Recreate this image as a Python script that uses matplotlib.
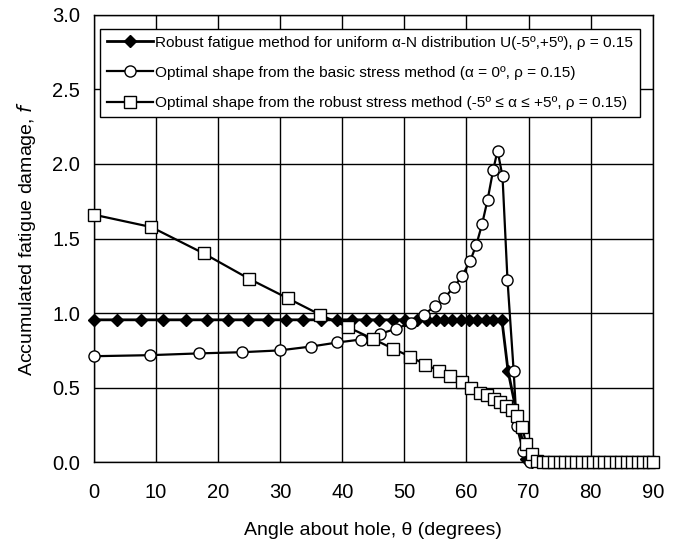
import matplotlib
matplotlib.use("Agg")
import matplotlib.pyplot as plt
import numpy as np

plt.rcParams['font.family'] = ['Liberation Sans', 'DejaVu Sans']

# Robust fatigue method (diamonds)
fat_x = [0, 3.8, 7.6, 11.1, 14.8, 18.2, 21.6, 24.9, 28.0, 31.0, 33.6, 36.5, 39.2, 41.5,
         43.8, 45.9, 48.1, 50.1, 52.0, 53.6, 55.1, 56.3, 57.7, 59.1, 60.4, 61.7, 63.1,
         64.3, 65.7, 66.7, 69.6, 70.5, 71.5, 72.5, 73.5, 74.5, 75.5, 76.5, 77.5, 78.5,
         79.5, 80.5, 81.5, 82.5, 83.5, 84.5, 85.5, 86.5, 87.5, 88.5, 89.5]
fat_y = [0.955] * 29 + [0.61, 0.02] + [0.0] * 20

# Basic stress method (circles)
basic_x = [0, 9.0, 17.0, 23.9, 29.9, 35.0, 39.2, 43.0, 46.1, 48.7, 51.0, 53.1, 54.9,
           56.4, 58.0, 59.3, 60.6, 61.6, 62.5, 63.4, 64.3, 65.0, 65.8, 66.6, 67.6,
           68.1, 69.1, 70.2]
basic_y = [0.711, 0.718, 0.73, 0.738, 0.75, 0.776, 0.803, 0.823, 0.862, 0.895, 0.935,
           0.989, 1.045, 1.10, 1.175, 1.25, 1.35, 1.46, 1.595, 1.76, 1.96, 2.09, 1.917,
           1.224, 0.609, 0.24, 0.078, 0.0]

# Robust stress method (squares)
rob_x = [0, 9.25, 17.7, 25.0, 31.2, 36.4, 40.9, 44.9, 48.2, 50.9, 53.4, 55.5, 57.4,
         59.2, 60.7, 62.2, 63.3, 64.4, 65.4, 66.4, 67.3, 68.1, 69.0, 69.6, 70.5, 71.3,
         72.3, 73.2, 74.1, 75.0, 75.9, 76.8, 77.7, 78.6, 79.5, 80.4, 81.3, 82.2, 83.1,
         84.0, 84.9, 85.8, 86.7, 87.6, 88.5, 89.4, 90.0]
rob_y = [1.66, 1.577, 1.40, 1.23, 1.10, 0.99, 0.906, 0.828, 0.761, 0.709, 0.654, 0.615,
         0.575, 0.537, 0.499, 0.466, 0.448, 0.425, 0.403, 0.38, 0.352, 0.307, 0.235,
         0.12, 0.056, 0.007] + [0.0] * 21

x_ticks = [0, 10, 20, 30, 40, 50, 60, 70, 80, 90]
y_ticks = [0.0, 0.5, 1.0, 1.5, 2.0, 2.5, 3.0]

fig = plt.figure(figsize=(6.85, 5.49), dpi=100)
ax = fig.add_axes([0.137, 0.158, 0.816, 0.815])

ax.plot(fat_x, fat_y, color='black', lw=2.0, marker='D', ms=6, mfc='black', mec='black',
        label='Robust fatigue method for uniform α-N distribution U(-5º,+5º), ρ = 0.15',
        zorder=3, clip_on=False)
ax.plot(basic_x, basic_y, color='black', lw=1.6, marker='o', ms=8, mfc='white', mec='black',
        mew=1.0, label='Optimal shape from the basic stress method (α = 0º, ρ = 0.15)',
        zorder=4, clip_on=False)
ax.plot(rob_x, rob_y, color='black', lw=1.6, marker='s', ms=8, mfc='white', mec='black',
        mew=1.0, label='Optimal shape from the robust stress method (-5º ≤ α ≤ +5º, ρ = 0.15)',
        zorder=5, clip_on=False)

ax.set_xlim(0, 90)
ax.set_ylim(0, 3.0)
ax.set_xticks(x_ticks)
ax.set_yticks(y_ticks)
ax.set_yticklabels([f"{v:.1f}" for v in y_ticks])
ax.tick_params(axis='both', length=0, labelsize=14.5)
ax.tick_params(axis='x', pad=15)
ax.tick_params(axis='y', pad=10)
ax.grid(True, color='black', lw=1.0)
ax.set_axisbelow(True)
for s in ax.spines.values():
    s.set_color('black')
    s.set_linewidth(1.0)

ax.set_xlabel('Angle about hole, θ (degrees)', fontsize=14, labelpad=14)
ax.set_ylabel('Accumulated fatigue damage, $\\mathit{f}$', fontsize=14, labelpad=10)

leg = ax.legend(loc='upper left', bbox_to_anchor=(0.011, 0.969), fontsize=11.1,
                frameon=True, fancybox=False, edgecolor='black', framealpha=1,
                handlelength=3.0, handletextpad=0.1, borderpad=0.45, labelspacing=1.05,
                borderaxespad=0)
leg.get_frame().set_linewidth(1.0)

fig.savefig('out.png', dpi=100)
